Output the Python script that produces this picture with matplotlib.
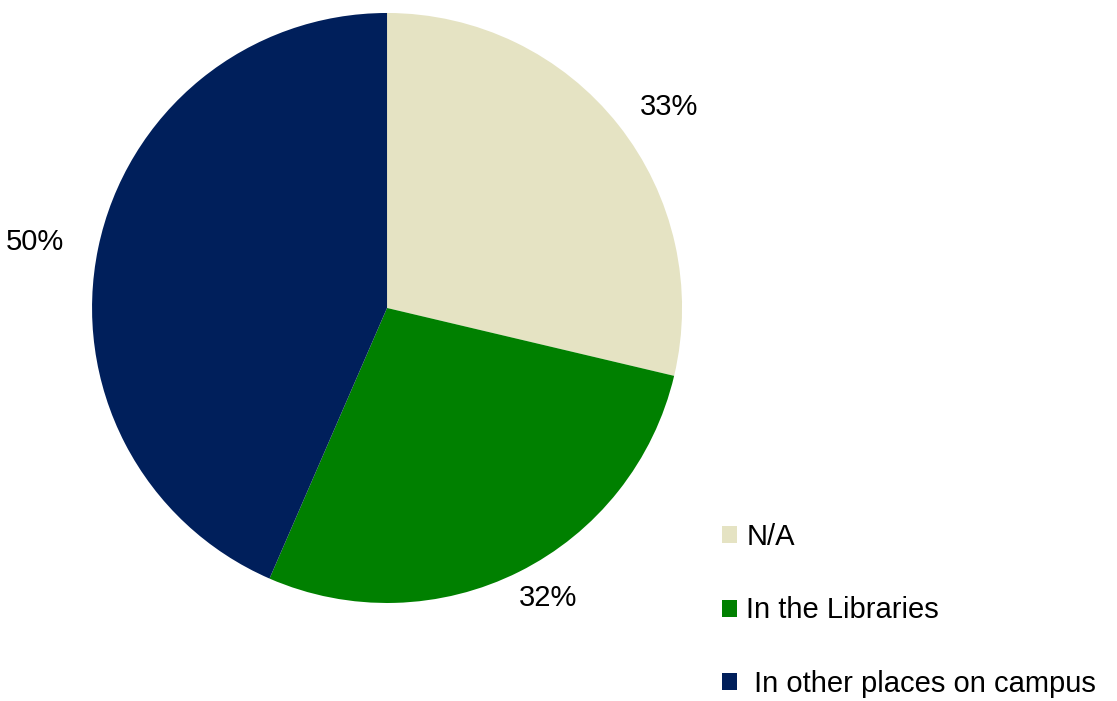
import matplotlib.pyplot as plt
import numpy as np

labels = ['N/A', 'In the Libraries', ' In other places on campus']
values = [33, 32, 50]
colors = ['#E5E3C3', '#008000', '#001F5B']

plt.rcParams['font.family'] = ['Liberation Sans', 'DejaVu Sans']

fig = plt.figure(figsize=(11.17, 7.01), dpi=100)
ax = fig.add_axes([0.0824, 0.1398, 0.5282, 0.8417])

wedges, _ = ax.pie(values, colors=colors, startangle=90, counterclock=False)
ax.set_xlim(-1, 1)
ax.set_ylim(-1, 1)
ax.set_aspect('equal')

# value labels outside each slice, around the mid angle
for w, v in zip(wedges, values):
    mid = np.deg2rad((w.theta1 + w.theta2) / 2)
    ax.text(1.22 * np.cos(mid), 1.1 * np.sin(mid), '{}%'.format(v),
            ha='center', va='center', fontsize=21, clip_on=False)

fig.legend(wedges, labels, loc='upper left', bbox_to_anchor=(0.6464, 0.254),
           frameon=False, fontsize=21, labelspacing=1.56,
           handlelength=0.53, handleheight=0.53, handletextpad=0.3,
           borderaxespad=0, borderpad=0)

fig.savefig('out.png', dpi=100)
